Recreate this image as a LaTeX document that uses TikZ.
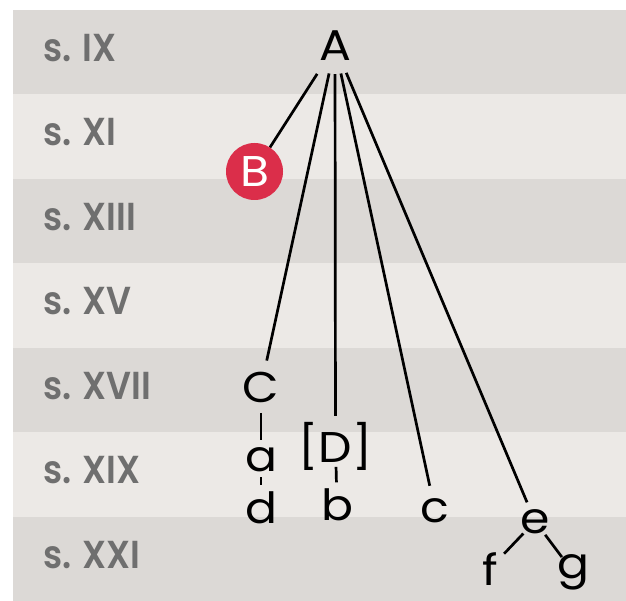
\documentclass[tikz,border=0pt]{standalone}
\usepackage{fontspec}
\newfontfamily\nodefont{Poppins}[FakeStretch=1.1]
\newfontfamily\labelfont{Poppins SemiBold}[FakeStretch=0.9]
\definecolor{banddark}{RGB}{220,217,214}
\definecolor{bandlight}{RGB}{236,233,230}
\definecolor{labelgray}{RGB}{111,111,111}
\definecolor{bred}{RGB}{219,46,74}
\tikzset{
  letter/.style={font=\nodefont\fontsize{43}{43}\selectfont, inner sep=0pt, anchor=base, text=black},
  centlabel/.style={font=\labelfont\fontsize{39}{39}\selectfont, inner sep=0pt, anchor=base west, text=labelgray},
  link/.style={line width=2.7pt, black},
}
\begin{document}
\begin{tikzpicture}[x=1pt,y=-1pt]
\useasboundingbox (0,0) rectangle (626,601);
\fill[white] (0,0) rectangle (626,601);
% bands
\foreach \i in {0,2,4,6} {\fill[banddark] (13,{10+84.43*\i}) rectangle (626,{10+84.43*(\i+1)});}
\foreach \i in {1,3,5} {\fill[bandlight] (13,{10+84.43*\i}) rectangle (626,{10+84.43*(\i+1)});}
% century labels
\node[centlabel] (l0) at (43,{10+84.43*0+51.5}) {s. IX};
\node[centlabel] (l1) at (43,{10+84.43*1+51.5}) {s. XI};
\node[centlabel] (l2) at (43,{10+84.43*2+51.5}) {s. XIII};
\node[centlabel] (l3) at (43,{10+84.43*3+51.5}) {s. XV};
\node[centlabel] (l4) at (43,{10+84.43*4+51.5}) {s. XVII};
\node[centlabel] (l5) at (43,{10+84.43*5+51.5}) {s. XIX};
\node[centlabel] (l6) at (43,{10+84.43*6+51.5}) {s. XXI};
% nodes
\node[letter] (A) at (335,61) {A};
\node[letter] (C) at (261,402) {C};
\node[letter] (a) at (261,471) {a};
\node[letter] (d) at (261,523) {d};
\node[letter] (D) at (335.5,462) {[D]};
\node[letter] (b) at (337,520) {b};
\node[letter] (c) at (435,522) {c};
\node[letter] (e) at (535,533) {e};
\node[letter] (f) at (490,585) {f};
\node[letter] (g) at (573,578) {g};
% connectors
\draw[link, shorten <=33pt, shorten >=28.5pt] (A.center) -- (254.5,171.5);
\draw[link, shorten <=28pt, shorten >=27pt] (A.center) -- (C.center);
\draw[link, shorten <=28pt, shorten >=30pt] (A.center) -- (D.center);
\draw[link, shorten <=28pt, shorten >=25pt] (A.center) -- (c.center);
\draw[link, shorten <=29pt, shorten >=20.5pt] (A.center) -- (e.center);
\draw[link, shorten <=26pt, shorten >=19pt] (C.center) -- (a.center);
\draw[link, shorten <=18pt, shorten >=22.5pt] (a.center) -- (d.center);
\draw[link, shorten <=21pt, shorten >=22pt] (D.center) -- (b.center);
\draw[link, shorten <=17pt, shorten >=20.5pt] (e.center) -- (f.center);
\draw[link, shorten <=17pt, shorten >=18.5pt] (e.center) -- (g.center);
\node[circle, fill=bred, minimum size=57pt, inner sep=0pt, text=white, font=\nodefont\fontsize{43}{43}\selectfont] (B) at (254.5,171.5) {B};
\end{tikzpicture}
\end{document}
